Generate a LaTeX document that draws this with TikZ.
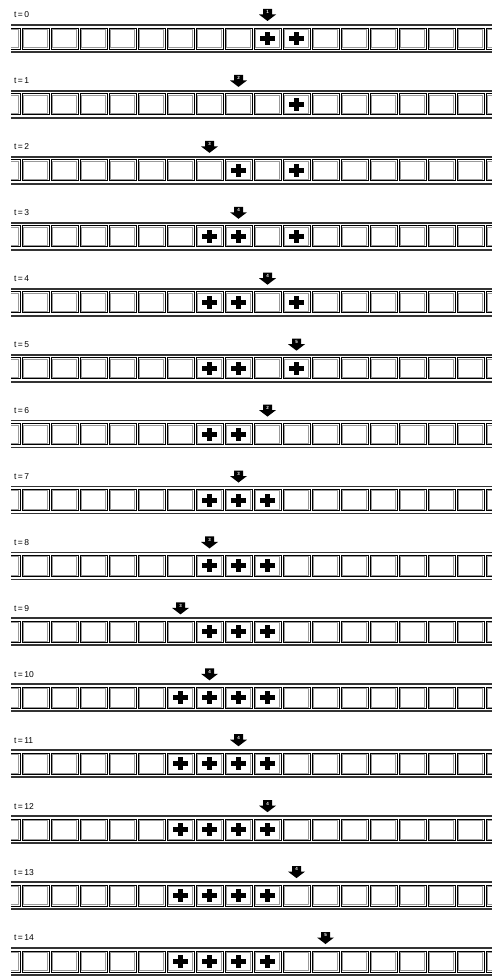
\documentclass[tikz,border=0pt]{standalone}
\usepackage{fontspec}
\setmainfont{Liberation Sans}
\usepackage{tikz}

\tikzset{
  tapeline/.style={line width=1.8pt, black!80},
  cellouter/.style={draw=black, line width=0.9pt},
  cellinner/.style={draw=black!40, line width=0.7pt},
  statelabel/.style={font=\bfseries\fontsize{4.5}{4.5}\selectfont, text=white, inner sep=0pt},
  timelabel/.style={font=\fontsize{8.5}{9}\selectfont, anchor=west, inner sep=0pt},
}

\begin{document}
\begin{tikzpicture}[x=1pt, y=-1pt]
  \useasboundingbox (0,0) rectangle (492,979);
  % time / head cell / state / cells holding a mark
  \foreach \t/\h/\s/\ones in {0/8/1/{8,9}, 1/7/2/{9}, 2/6/3/{7,9}, 3/7/4/{6,7,9},
      4/8/4/{6,7,9}, 5/9/5/{6,7,9}, 6/8/2/{6,7}, 7/7/3/{6,7,8}, 8/6/3/{6,7,8},
      9/5/3/{6,7,8}, 10/6/4/{5,6,7,8}, 11/7/4/{5,6,7,8}, 12/8/4/{5,6,7,8},
      13/9/4/{5,6,7,8}, 14/10/5/{5,6,7,8}} {
    \begin{scope}[shift={(0,{65.93*\t})}]
      \node[timelabel] (lbl\t) at (14,15) {t\,=\,\t};
      \draw[tapeline] (11,25) -- (492,25);
      \draw[tapeline] (11,52) -- (492,52);
      \begin{scope}
        \clip (11,26) rectangle (492,51);
        \foreach \k in {-1,...,16} {
          \draw[cellouter] ({22+29*\k},28) rectangle ++(27,21);
          \draw[cellinner] ({23.3+29*\k},29.3) rectangle ++(24.4,18.4);
        }
      \end{scope}
      \foreach \k in \ones {
        \fill ({35.5+29*\k-7.5},36) rectangle ++(15,5);
        \fill ({35.5+29*\k-2.5},32) rectangle ++(5,13);
      }
      \coordinate (head\t) at ({35.5+29*\h},15);
      \fill (head\t) ++(-4.5,-6) -- ++(9,0) -- ++(0,5.5) -- ++(4,0)
        -- ++(-8.5,6.5) -- ++(-8.5,-6.5) -- ++(4,0) -- cycle;
      \node[statelabel] (state\t) at ({35.5+29*\h},12.3) {\s};
    \end{scope}
  }
\end{tikzpicture}
\end{document}
